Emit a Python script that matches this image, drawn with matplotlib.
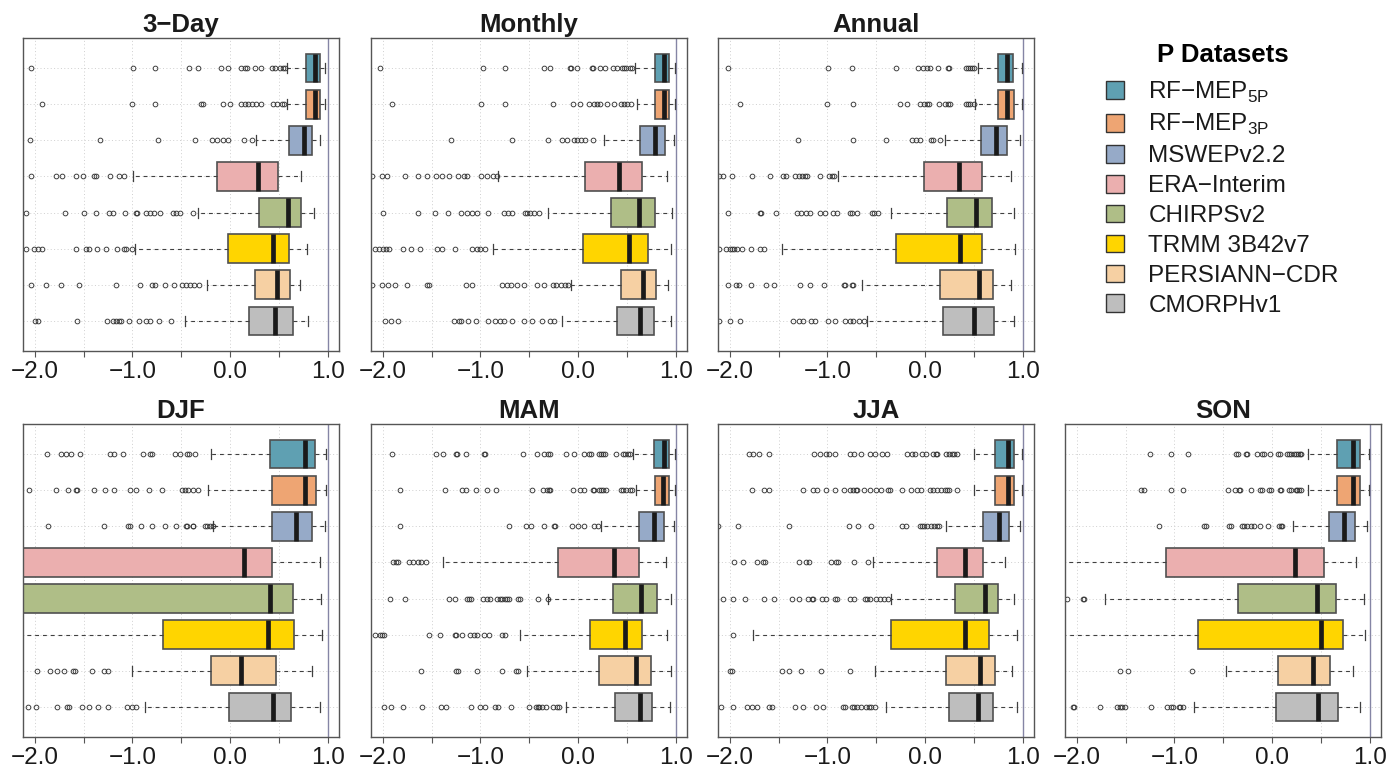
import matplotlib
matplotlib.use('Agg')
import matplotlib.pyplot as plt
from matplotlib.patches import Patch

plt.rcParams['font.family'] = ['Liberation Sans', 'DejaVu Sans']
plt.rcParams['mathtext.fontset'] = 'custom'
plt.rcParams['mathtext.rm'] = 'Liberation Sans'
plt.rcParams['axes.unicode_minus'] = True

# ---------------- data ----------------
datasets = ['RF\u2212MEP$_{\\mathrm{5P}}$', 'RF\u2212MEP$_{\\mathrm{3P}}$', 'MSWEPv2.2',
            'ERA\u2212Interim', 'CHIRPSv2', 'TRMM 3B42v7', 'PERSIANN\u2212CDR', 'CMORPHv1']
colors = ['#5FA0B2', '#EEA573', '#96AAC8', '#EBAFAF', '#AFBE87', '#FFD500', '#F6D0A3', '#BEBEBE']
panel_titles = ['3\u2212Day', 'Monthly', 'Annual', 'DJF', 'MAM', 'JJA', 'SON']

# each row: whisker low, Q1, median, Q3, whisker high
day3_stats = [[0.586, 0.778, 0.873, 0.921, 0.976],
              [0.586, 0.781, 0.873, 0.921, 0.976],
              [0.269, 0.603, 0.760, 0.842, 0.921],
              [-0.992, -0.131, 0.289, 0.487, 0.723],
              [-0.326, 0.299, 0.593, 0.723, 0.863],
              [-0.972, -0.025, 0.443, 0.607, 0.791],
              [-0.240, 0.258, 0.477, 0.617, 0.716],
              [-0.459, 0.197, 0.463, 0.648, 0.798]]
day3_out = [[-2.04, -0.99, -0.77, -0.42, -0.33, -0.09, -0.02, 0.11, 0.15, 0.17, 0.25, 0.32, 0.43, 0.46, 0.51, 0.54, 0.56],
            [-1.925, -1.006, -0.767, -0.30, -0.28, -0.07, 0.0, 0.108, 0.15, 0.187, 0.22, 0.27, 0.32, 0.436, 0.477, 0.528, 0.552],
            [-2.05, -1.327, -0.733, -0.36, -0.19, -0.131, -0.07, -0.018, 0.146, 0.228],
            [-2.034, -1.785, -1.716, -1.573, -1.51, -1.39, -1.37, -1.231, -1.14, -1.088],
            [-2.09, -1.69, -1.50, -1.375, -1.24, -1.20, -1.08, -0.96, -0.95, -0.856, -0.82, -0.78, -0.72, -0.589, -0.55, -0.514, -0.384],
            [-2.09, -2.007, -1.97, -1.93, -1.573, -1.477, -1.44, -1.361, -1.272, -1.156, -1.088, -1.07, -1.009],
            [-2.034, -1.887, -1.727, -1.549, -1.17, -0.924, -0.804, -0.77, -0.67, -0.575, -0.497, -0.45, -0.41, -0.37, -0.316],
            [-2.0, -1.97, -1.566, -1.255, -1.20, -1.17, -1.14, -1.12, -1.033, -0.934, -0.856, -0.82, -0.729, -0.603]]

monthly_stats = [[0.584, 0.785, 0.881, 0.928, 0.990],
                 [0.600, 0.790, 0.880, 0.928, 0.990],
                 [0.266, 0.635, 0.788, 0.887, 0.983],
                 [-0.816, 0.068, 0.420, 0.659, 0.915],
                 [-0.307, 0.334, 0.621, 0.785, 0.962],
                 [-0.867, 0.055, 0.522, 0.717, 0.949],
                 [-0.068, 0.444, 0.669, 0.798, 0.922],
                 [-0.160, 0.403, 0.635, 0.778, 0.955]]
monthly_out = [[-2.03, -0.976, -0.75, -0.348, -0.287, -0.082, -0.07, -0.007, 0.147, 0.157, 0.225, 0.276, 0.362, 0.403, 0.454, 0.47, 0.495, 0.532, 0.555],
               [-1.91, -0.99, -0.747, -0.253, -0.055, 0.02, 0.113, 0.164, 0.19, 0.225, 0.293, 0.369, 0.437, 0.47, 0.5, 0.546],
               [-1.297, -0.679, -0.304, -0.16, -0.116, -0.041, -0.007, 0.027, 0.068, 0.157],
               [-2.106, -2.01, -1.955, -1.775, -1.638, -1.55, -1.457, -1.396, -1.32, -1.225, -1.167, -1.14, -0.997, -0.935, -0.867, -0.833],
               [-1.993, -1.638, -1.467, -1.328, -1.2, -1.14, -1.082, -1.03, -0.918, -0.758, -0.713, -0.672, -0.546, -0.52, -0.49, -0.45, -0.40],
               [-2.075, -2.034, -2.0, -1.966, -1.94, -1.795, -1.71, -1.618, -1.44, -1.389, -1.256, -1.085, -1.034, -1.0, -0.955],
               [-2.106, -2.003, -1.945, -1.877, -1.754, -1.543, -1.526, -1.15, -1.089, -0.782, -0.724, -0.69, -0.628, -0.556, -0.416, -0.348, -0.253, -0.229, -0.177, -0.136, -0.102],
               [-1.976, -1.918, -1.84, -1.27, -1.22, -1.2, -1.126, -1.05, -0.925, -0.846, -0.8, -0.757, -0.672, -0.553, -0.468, -0.372, -0.287, -0.246]]

annual_stats = [[0.538, 0.743, 0.839, 0.900, 0.990],
                [0.514, 0.743, 0.839, 0.908, 0.990],
                [0.202, 0.575, 0.729, 0.842, 0.969],
                [-0.887, -0.010, 0.349, 0.582, 0.880],
                [-0.353, 0.223, 0.524, 0.682, 0.914],
                [-1.462, -0.298, 0.356, 0.582, 0.925],
                [-0.647, 0.154, 0.555, 0.699, 0.880],
                [-0.599, 0.182, 0.497, 0.702, 0.914]]
annual_out = [[-2.02, -0.993, -0.747, -0.30, -0.072, -0.017, 0.02, 0.05, 0.134, 0.23, 0.245, 0.418, 0.44, 0.46, 0.48, 0.503],
              [-1.894, -1.007, -0.74, -0.257, -0.182, -0.055, -0.01, 0.02, 0.04, 0.144, 0.205, 0.23, 0.257, 0.42, 0.44, 0.46, 0.50],
              [-1.305, -0.743, -0.397, -0.137, -0.096, -0.051, 0.058, 0.085, 0.154],
              [-2.106, -2.065, -1.98, -1.774, -1.586, -1.455, -1.42, -1.329, -1.295, -1.26, -1.226, -1.209, -1.072, -0.986, -0.952, -0.935],
              [-2.02, -1.695, -1.678, -1.524, -1.312, -1.271, -1.216, -1.182, -1.079, -1.027, -0.942, -0.9, -0.771, -0.747, -0.702, -0.548, -0.524, -0.479],
              [-2.106, -2.038, -2.0, -1.98, -1.952, -1.93, -1.877, -1.781, -1.695, -1.654],
              [-2.02, -1.935, -1.90, -1.784, -1.627, -1.551, -1.277, -1.175, -1.038, -0.832, -0.815, -0.75, -0.733],
              [-2.11, -1.997, -1.894, -1.356, -1.288, -1.254, -1.164, -1.13, -0.993, -0.925, -0.822, -0.771, -0.737, -0.678, -0.627]]

djf_stats = [[-0.191, 0.413, 0.762, 0.868, 0.977],
             [-0.229, 0.424, 0.762, 0.875, 0.984],
             [-0.171, 0.430, 0.670, 0.837, 0.967],
             [-6.0, -2.6, 0.147, 0.427, 0.922],
             [-6.0, -2.5, 0.410, 0.649, 0.933],
             [-3.0, -0.690, 0.386, 0.659, 0.946],
             [-1.004, -0.198, 0.109, 0.465, 0.834],
             [-0.871, -0.014, 0.437, 0.622, 0.922]]
djf_out = [[-1.879, -1.732, -1.675, -1.63, -1.537, -1.23, -1.19, -1.10, -0.895, -0.82, -0.803, -0.564, -0.513, -0.445, -0.418, -0.359],
           [-2.063, -1.783, -1.657, -1.578, -1.564, -1.394, -1.281, -1.185, -1.025, -0.967, -0.834, -0.694, -0.492, -0.461, -0.427, -0.376, -0.325],
           [-1.862, -1.288, -1.049, -1.025, -0.916, -0.803, -0.67, -0.553, -0.454, -0.444, -0.383, -0.376, -0.256, -0.232, -0.205, -0.178],
           [], [], [],
           [-1.975, -1.845, -1.77, -1.698, -1.606, -1.585, -1.418, -1.291, -1.254],
           [-2.067, -1.988, -1.77, -1.674, -1.65, -1.517, -1.445, -1.35, -1.247, -1.059, -1.008, -0.963]]

mam_stats = [[0.562, 0.774, 0.877, 0.932, 0.990],
             [0.589, 0.784, 0.870, 0.932, 0.990],
             [0.236, 0.620, 0.774, 0.877, 0.979],
             [-1.380, -0.205, 0.366, 0.620, 0.904],
             [-0.305, 0.360, 0.640, 0.808, 0.949],
             [-0.592, 0.127, 0.476, 0.654, 0.911],
             [-0.527, 0.219, 0.589, 0.750, 0.949],
             [-0.123, 0.380, 0.630, 0.757, 0.938]]
mam_out = [[-1.904, -1.455, -1.38, -1.253, -1.236, -1.151, -0.962, -0.952, -0.562, -0.425, -0.346, -0.312, -0.284, -0.123, -0.038, 0.065, 0.116, 0.134, 0.209, 0.23, 0.26, 0.277, 0.39, 0.459, 0.483, 0.51, 0.53],
           [-1.825, -1.36, -1.192, -1.151, -1.048, -0.935, -0.836, -0.476, -0.363, -0.318, -0.298, -0.288, -0.055, 0.02, 0.065, 0.15, 0.168, 0.209, 0.23, 0.26, 0.288, 0.435, 0.459, 0.493, 0.527, 0.551],
           [-1.825, -0.709, -0.534, -0.483, -0.346, -0.25, -0.236, -0.065, 0.0, 0.065, 0.161, 0.202],
           [-1.894, -1.86, -1.846, -1.733, -1.688, -1.64, -1.613, -1.558],
           [-1.928, -1.767, -1.318, -1.264, -1.134, -1.113, -1.092, -0.976, -0.928, -0.901, -0.825, -0.798, -0.774, -0.75, -0.723, -0.705, -0.61, -0.593, -0.414, -0.305],
           [-2.082, -2.031, -2.003, -1.983, -1.527, -1.418, -1.264, -1.25, -1.185, -1.106, -1.065, -1.031, -0.962, -0.911, -0.774, -0.75],
           [-1.613, -1.247, -1.226, -1.038, -0.781, -0.637, -0.61],
           [-1.983, -1.914, -1.795, -1.603, -1.401, -1.356, -1.092, -1.007, -0.952, -0.853, -0.818, -0.682, -0.507, -0.432, -0.415, -0.397, -0.373, -0.329, -0.26, -0.219, -0.192]]

jja_stats = [[0.497, 0.716, 0.853, 0.914, 0.990],
             [0.503, 0.716, 0.853, 0.914, 0.990],
             [0.212, 0.589, 0.760, 0.856, 0.976],
             [-0.534, 0.127, 0.411, 0.589, 0.822],
             [-0.346, 0.308, 0.616, 0.750, 0.914],
             [-1.757, -0.353, 0.411, 0.651, 0.938],
             [-0.510, 0.219, 0.565, 0.719, 0.887],
             [-0.397, 0.240, 0.538, 0.699, 0.938]]
jja_out = [[-1.798, -1.764, -1.705, -1.603, -1.14, -1.072, -1.01, -0.986, -0.918, -0.764, -0.73, -0.654, -0.568, -0.514, -0.438, -0.394, -0.182, -0.13, -0.106, -0.027, 0.014, 0.082, 0.116, 0.127, 0.219, 0.247, 0.271, 0.298, 0.325],
           [-1.774, -1.654, -1.6, -1.253, -1.151, -1.106, -1.01, -0.925, -0.832, -0.764, -0.736, -0.712, -0.695, -0.627, -0.568, -0.507, -0.449, -0.38, -0.363, -0.233, -0.14, -0.086, -0.045, 0.051, 0.082, 0.127, 0.168, 0.202, 0.229, 0.247, 0.325],
           [-2.12, -1.918, -1.397, -0.781, -0.688, -0.551, -0.233, -0.199, -0.051, -0.027, -0.01, 0.024, 0.058, 0.092, 0.127, 0.144],
           [-1.952, -1.866, -1.723, -1.661, -1.637, -1.288, -1.216, -1.192, -0.959, -0.908, -0.894, -0.726, -0.586],
           [-2.065, -1.969, -1.842, -1.654, -1.545, -1.36, -1.288, -1.199, -1.158, -1.148, -1.055, -1.01, -0.918, -0.901, -0.764, -0.73, -0.616, -0.592, -0.565, -0.507, -0.466, -0.421, -0.38],
           [-1.969],
           [-1.997, -1.973, -1.466, -1.397, -1.271, -1.065, -0.764],
           [-2.092, -1.969, -1.825, -1.774, -1.716, -1.603, -1.569, -1.332, -1.25, -1.113, -1.048, -0.839, -0.822, -0.747, -0.73, -0.695, -0.651, -0.603, -0.575, -0.558, -0.514]]

son_stats = [[0.363, 0.667, 0.831, 0.900, 0.989],
             [0.369, 0.667, 0.831, 0.900, 0.989],
             [0.209, 0.585, 0.739, 0.845, 0.972],
             [-3.0, -1.088, 0.236, 0.527, 0.859],
             [-1.714, -0.349, 0.462, 0.657, 0.944],
             [-3.0, -0.763, 0.503, 0.729, 0.954],
             [-0.472, 0.058, 0.421, 0.595, 0.831],
             [-0.800, 0.041, 0.472, 0.677, 0.903]]
son_out = [[-1.245, -1.03, -0.859, -0.373, -0.349, -0.27, -0.253, -0.151, -0.1, -0.082, -0.02, 0.065, 0.082, 0.151, 0.174, 0.198, 0.226, 0.243, 0.267, 0.284, 0.301],
           [-1.338, -1.314, -1.03, -0.913, -0.452, -0.38, -0.339, -0.329, -0.212, -0.123, -0.1, -0.031, -0.014, 0.082, 0.096, 0.174, 0.191, 0.243, 0.26, 0.277, 0.294],
           [-1.16, -0.698, -0.681, -0.441, -0.417, -0.304, -0.287, -0.253, -0.219, -0.185, -0.123, -0.041, 0.072, 0.089, 0.106],
           [],
           [-2.1, -1.936, -1.929],
           [],
           [-1.56, -1.478, -0.818],
           [-2.039, -2.025, -1.758, -1.587, -1.56, -1.536, -1.502, -1.238, -1.074, -1.03, -1.012, -0.955, -0.938, -0.91]]

panel_stats = [day3_stats, monthly_stats, annual_stats, djf_stats, mam_stats, jja_stats, son_stats]
panel_outs = [day3_out, monthly_out, annual_out, djf_out, mam_out, jja_out, son_out]

# ---------------- layout ----------------
W, H = 1400, 770
fig = plt.figure(figsize=(14, 7.7), dpi=100)
col_left = [23, 371, 718, 1065]
ax_w, ax_h = 316, 313
row_bottom = [351, 737]
slots = [(0, 0), (0, 1), (0, 2), (1, 0), (1, 1), (1, 2), (1, 3)]

xticks = [-2.0, -1.5, -1.0, -0.5, 0.0, 0.5, 1.0]
xticklabels = ['\u22122.0', '', '\u22121.0', '', '0.0', '', '1.0']
n = len(datasets)
positions = [n - i for i in range(n)]

for p, (r, c) in enumerate(slots):
    ax = fig.add_axes([col_left[c] / W, 1 - row_bottom[r] / H, ax_w / W, ax_h / H])
    stats = []
    for i in range(n):
        lo, q1, med, q3, hi = panel_stats[p][i]
        stats.append(dict(whislo=lo, q1=q1, med=med, q3=q3, whishi=hi,
                          fliers=panel_outs[p][i]))
    bp = ax.bxp(stats, positions=positions, widths=0.8, orientation='horizontal',
                patch_artist=True, capwidths=0.28, showfliers=True,
                boxprops=dict(edgecolor='#505050', linewidth=1.2),
                medianprops=dict(color='#1a1a1a', linewidth=3.4, solid_capstyle='butt'),
                whiskerprops=dict(color='#404040', linewidth=0.8, linestyle=(0, (3.5, 3.5))),
                capprops=dict(color='#404040', linewidth=0.9),
                flierprops=dict(marker='o', markersize=3.4, markerfacecolor='none',
                                markeredgecolor='#333333', markeredgewidth=0.65))
    for patch, col in zip(bp['boxes'], colors):
        patch.set_facecolor(col)
    for x in xticks[:-1]:
        ax.axvline(x, color='#cfcfcf', linestyle=(0, (1, 2.5)), linewidth=0.7, zorder=0)
    for y in positions:
        ax.axhline(y, color='#cfcfcf', linestyle=(0, (1, 2.5)), linewidth=0.7, zorder=0)
    ax.axvline(1.0, color='#8585a5', linewidth=1.0, zorder=0.5)
    ax.set_xlim(-2.12, 1.115)
    ax.set_ylim(0.17, 8.83)
    ax.set_yticks([])
    ax.set_xticks(xticks)
    ax.set_xticklabels(xticklabels)
    ax.tick_params(axis='x', labelsize=17.5, length=4, width=0.8, color='#555555',
                   pad=3.5, labelcolor='#1a1a1a')
    for s in ax.spines.values():
        s.set_color('#555555')
        s.set_linewidth(1.0)
    ax.set_title(panel_titles[p], fontsize=18.5, fontweight='bold', pad=4, color='#1a1a1a')

# legend
lax = fig.add_axes([1101 / W, 1 - 334 / H, 290 / W, 296 / H])
lax.axis('off')
handles = [Patch(facecolor=c, edgecolor='#333333', linewidth=1.0) for c in colors]
leg = lax.legend(handles, datasets, loc='upper left', bbox_to_anchor=(0.0, 1.0),
                 frameon=False, fontsize=17.5, title='P Datasets',
                 title_fontproperties=dict(weight='bold', size=18.5),
                 handlelength=0.75, handleheight=0.75, handletextpad=1.0,
                 labelspacing=0.31, borderaxespad=0.0, borderpad=0.2)
leg._legend_box.align = 'center'
leg._legend_box.sep = 0.31 * 17.5 + 3.6
for t in leg.get_texts():
    t.set_color('#1a1a1a')

fig.savefig('out.png', dpi=100)
